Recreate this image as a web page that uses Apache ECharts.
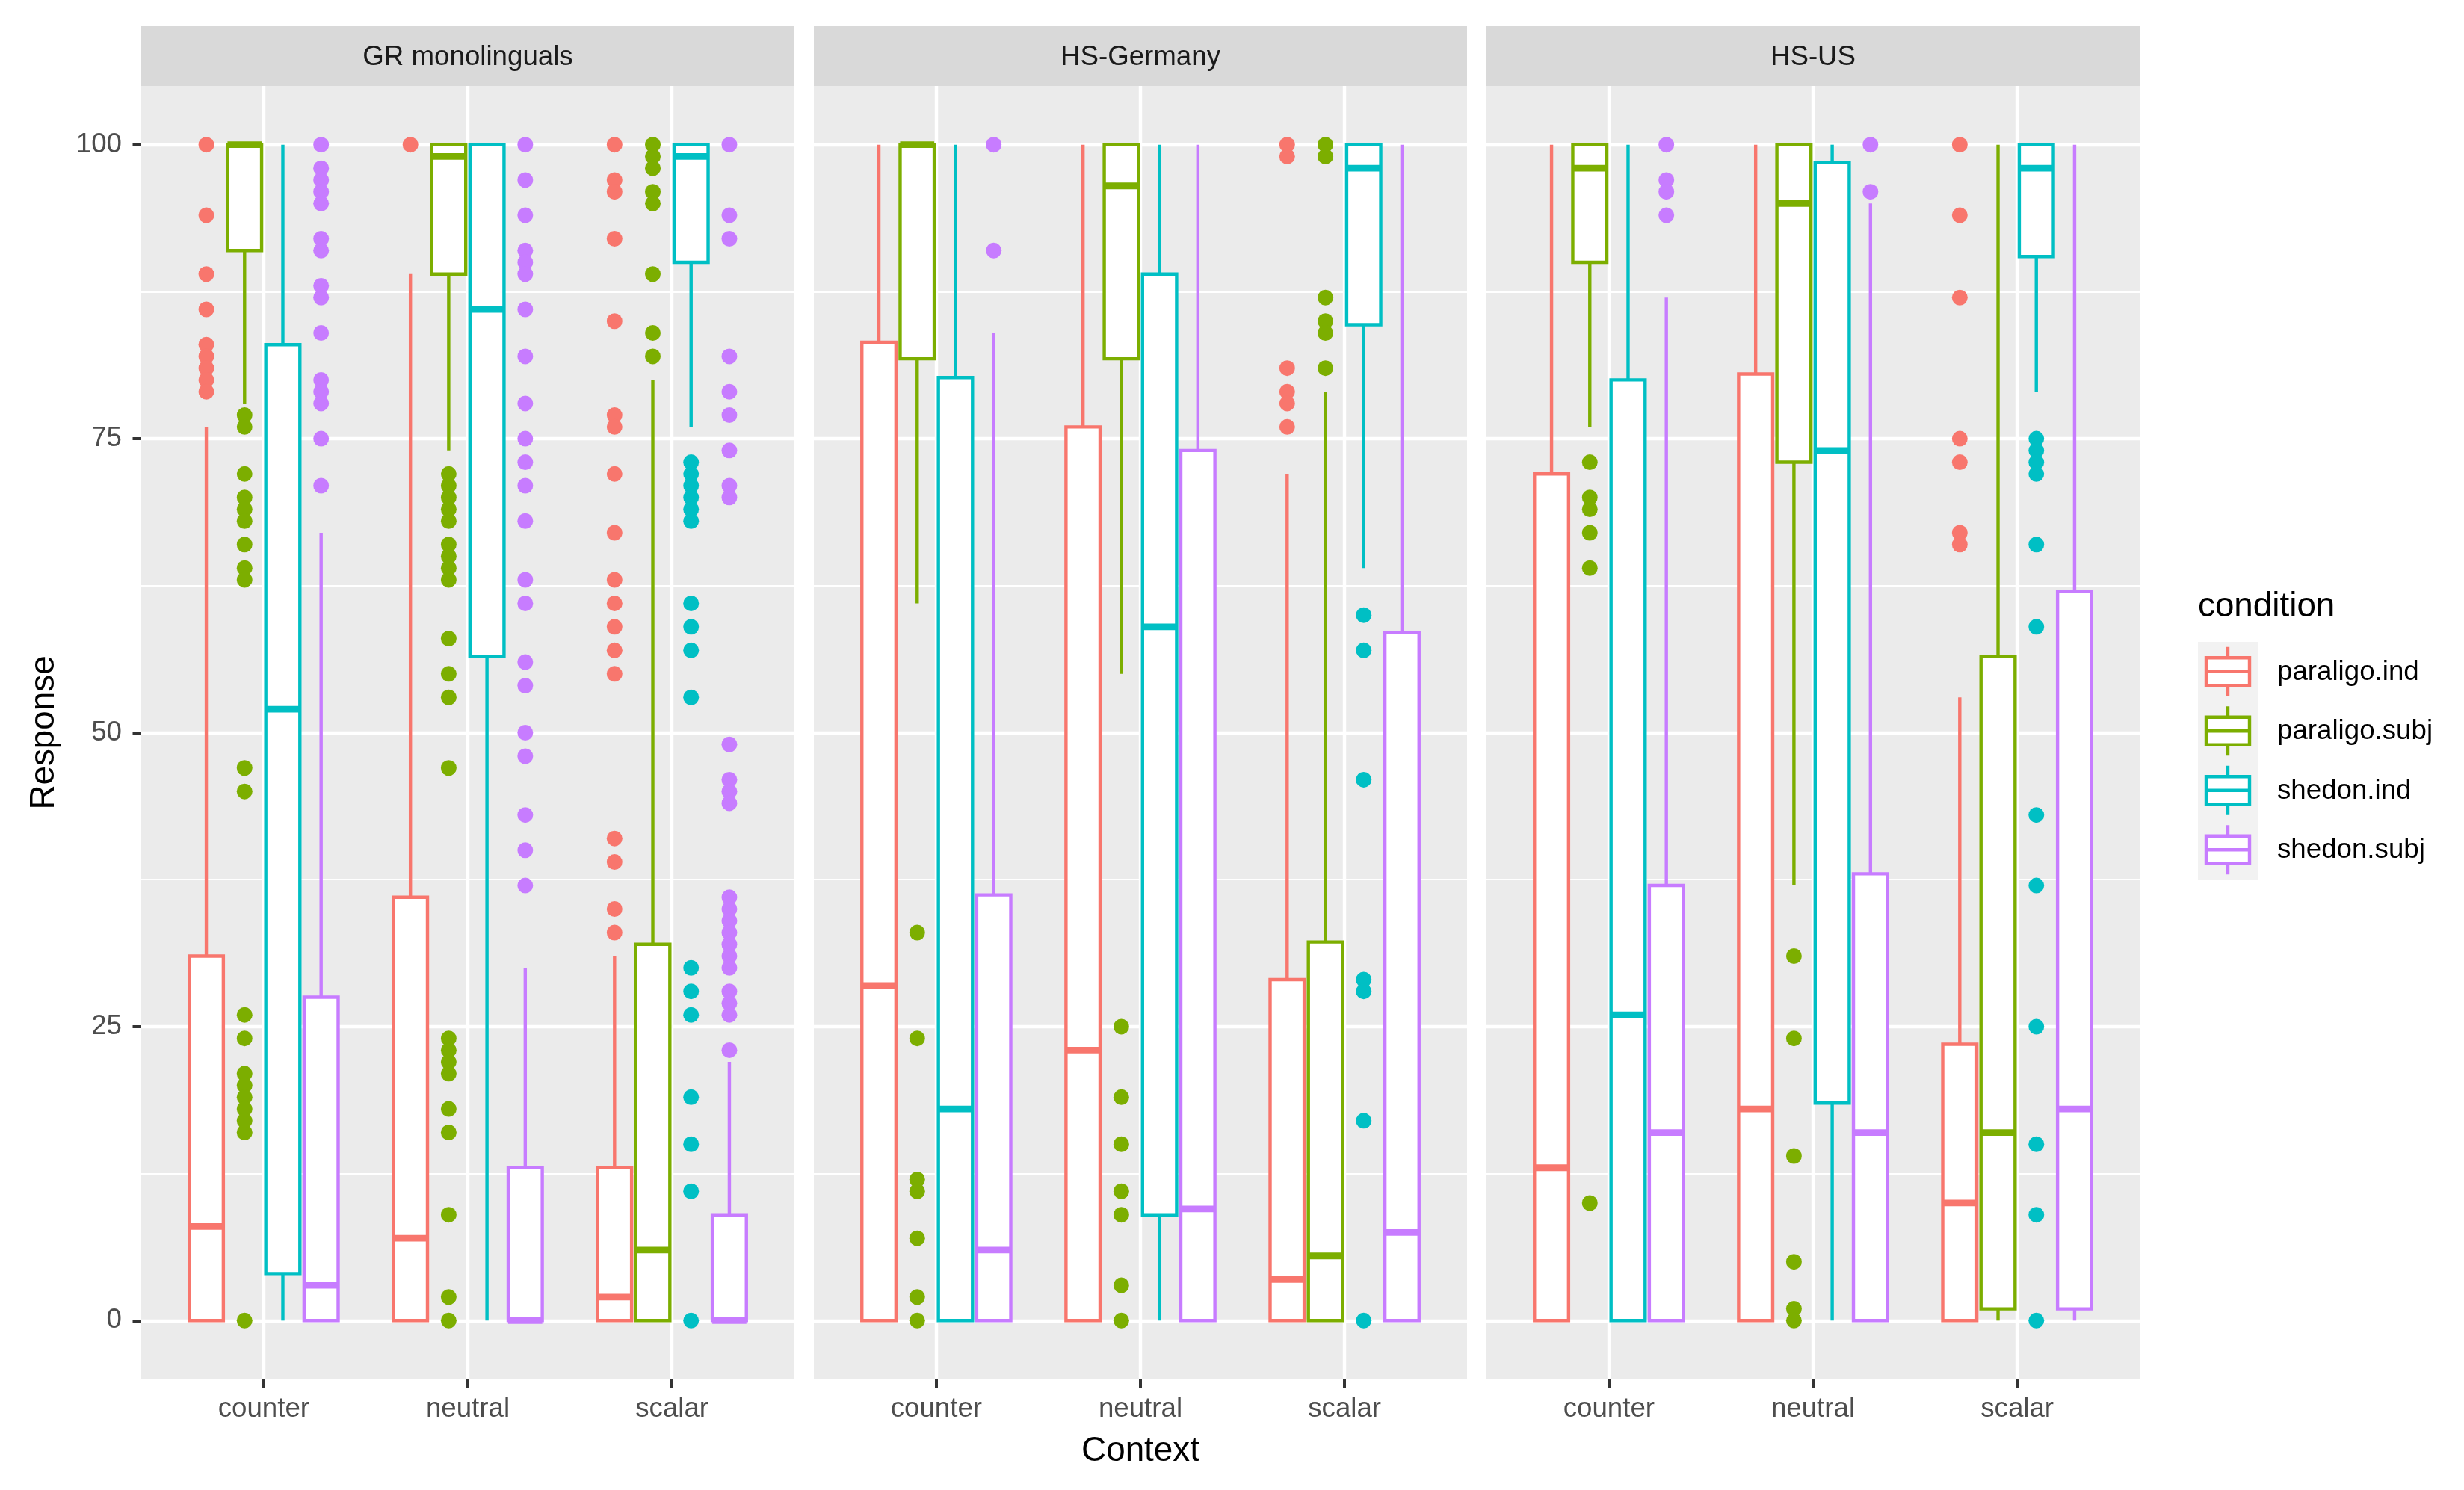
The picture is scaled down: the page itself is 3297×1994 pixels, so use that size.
<!DOCTYPE html>
<html><head><meta charset="utf-8">
<script src="https://cdn.jsdelivr.net/npm/echarts@6/dist/echarts.min.js"></script>
<style>html,body{margin:0;padding:0;background:#fff}#chart{width:3297px;height:1994px}</style>
</head><body><div id="chart"></div>
<script>
const facets = ['GR monolinguals', 'HS-Germany', 'HS-US'];
const contexts = ['counter', 'neutral', 'scalar'];
const conditions = ['paraligo.ind', 'paraligo.subj', 'shedon.ind', 'shedon.subj'];
const conditionColors = ['#F8766D', '#7CAE00', '#00BFC4', '#C77CFF'];
const yTickValues = [0, 25, 50, 75, 100];
const yMinorValues = [12.5, 37.5, 62.5, 87.5];

// Box stats per context (counter, neutral, scalar): [lower whisker, Q1, median, Q3, upper whisker]
// Outliers per context (counter, neutral, scalar)
// --- GR monolinguals ---
const grParaligoIndBox = [[0, 0, 8, 31, 76], [0, 0, 7, 36, 89], [0, 0, 2, 13, 31]];
const grParaligoIndOut = [[100, 94, 89, 86, 83, 82, 81, 80, 79], [100], [100, 97, 96, 92, 85, 77, 76, 72, 67, 63, 61, 59, 57, 55, 41, 39, 35, 33]];
const grParaligoSubjBox = [[78, 91, 100, 100, 100], [74, 89, 99, 100, 100], [0, 0, 6, 32, 80]];
const grParaligoSubjOut = [[77, 76, 72, 70, 69, 68, 66, 64, 63, 47, 45, 26, 24, 21, 20, 19, 18, 17, 16, 0], [72, 71, 70, 69, 68, 66, 65, 64, 63, 58, 55, 53, 47, 24, 23, 22, 21, 18, 16, 9, 2, 0], [100, 99, 98, 96, 95, 89, 84, 82]];
const grShedonIndBox = [[0, 4, 52, 83, 100], [0, 56.5, 86, 100, 100], [76, 90, 99, 100, 100]];
const grShedonIndOut = [[], [], [73, 72, 71, 70, 69, 68, 61, 59, 57, 53, 30, 28, 26, 19, 15, 11, 0]];
const grShedonSubjBox = [[0, 0, 3, 27.5, 67], [0, 0, 0, 13, 30], [0, 0, 0, 9, 22]];
const grShedonSubjOut = [[100, 98, 97, 96, 95, 92, 91, 88, 87, 84, 80, 79, 78, 75, 71], [100, 97, 94, 91, 90, 89, 86, 82, 78, 75, 73, 71, 68, 63, 61, 56, 54, 50, 48, 43, 40, 37], [100, 94, 92, 82, 79, 77, 74, 71, 70, 49, 46, 45, 44, 36, 35, 34, 33, 32, 31, 30, 28, 27, 26, 23]];
// --- HS-Germany ---
const deParaligoIndBox = [[0, 0, 28.5, 83.2, 100], [0, 0, 23, 76, 100], [0, 0, 3.5, 29, 72]];
const deParaligoIndOut = [[], [], [100, 99, 81, 79, 78, 76]];
const deParaligoSubjBox = [[61, 81.8, 100, 100, 100], [55, 81.8, 96.5, 100, 100], [0, 0, 5.5, 32.2, 79]];
const deParaligoSubjOut = [[33, 24, 12, 11, 7, 2, 0], [25, 19, 15, 11, 9, 3, 0], [100, 99, 87, 85, 84, 81]];
const deShedonIndBox = [[0, 0, 18, 80.2, 100], [0, 9, 59, 89, 100], [64, 84.7, 98, 100, 100]];
const deShedonIndOut = [[], [], [60, 57, 46, 29, 28, 17, 0]];
const deShedonSubjBox = [[0, 0, 6, 36.2, 84], [0, 0, 9.5, 74, 100], [0, 0, 7.5, 58.5, 100]];
const deShedonSubjOut = [[100, 91], [], []];
// --- HS-US ---
const usParaligoIndBox = [[0, 0, 13, 72, 100], [0, 0, 18, 80.5, 100], [0, 0, 10, 23.5, 53]];
const usParaligoIndOut = [[], [], [100, 94, 87, 75, 73, 67, 66]];
const usParaligoSubjBox = [[76, 90, 98, 100, 100], [37, 73, 95, 100, 100], [0, 1, 16, 56.5, 100]];
const usParaligoSubjOut = [[73, 70, 69, 67, 64, 10], [31, 24, 14, 5, 1, 0], []];
const usShedonIndBox = [[0, 0, 26, 80, 100], [0, 18.5, 74, 98.5, 100], [79, 90.5, 98, 100, 100]];
const usShedonIndOut = [[], [], [75, 74, 73, 72, 66, 59, 43, 37, 25, 15, 9, 0]];
const usShedonSubjBox = [[0, 0, 16, 37, 87], [0, 0, 16, 38, 95], [0, 1, 18, 62, 100]];
const usShedonSubjOut = [[100, 97, 96, 94], [100, 96], []];

const facetBoxes = [
  [grParaligoIndBox, grParaligoSubjBox, grShedonIndBox, grShedonSubjBox],
  [deParaligoIndBox, deParaligoSubjBox, deShedonIndBox, deShedonSubjBox],
  [usParaligoIndBox, usParaligoSubjBox, usShedonIndBox, usShedonSubjBox]
];
const facetOutliers = [
  [grParaligoIndOut, grParaligoSubjOut, grShedonIndOut, grShedonSubjOut],
  [deParaligoIndOut, deParaligoSubjOut, deShedonIndOut, deShedonSubjOut],
  [usParaligoIndOut, usParaligoSubjOut, usShedonIndOut, usShedonSubjOut]
];

// Layout
const FONT = '"Liberation Sans", Arial, Helvetica, sans-serif';
const panelLeft = [189, 1089, 1989];
const panelW = 874, panelTop = 115, panelH = 1731;
const stripTop = 35, stripH = 80;
const slot = 0.1875, boxW = 0.167;
const LW = 4.4;

const grids = panelLeft.map(l => ({
  left: l, top: panelTop, width: panelW, height: panelH,
  show: true, backgroundColor: '#EBEBEB', borderWidth: 0
}));

const xAxes = facets.map((f, i) => ({
  type: 'value', gridIndex: i, min: 0.4, max: 3.6, position: 'bottom',
  axisLine: { show: false, onZero: false },
  axisTick: { show: true, customValues: [1, 2, 3], length: 11.5, lineStyle: { color: '#333333', width: 4 } },
  axisLabel: { show: true, customValues: [1, 2, 3], formatter: v => contexts[Math.round(v) - 1] || '',
    color: '#4D4D4D', fontSize: 36.7, fontFamily: FONT, margin: 21 },
  splitLine: { show: true, lineStyle: { color: '#FFFFFF', width: LW } },
  name: i === 1 ? 'Context' : '', nameLocation: 'middle', nameGap: 73,
  nameTextStyle: { color: '#000000', fontSize: 45.8, fontFamily: FONT }
}));

const yAxes = [];
facets.forEach((f, i) => {
  yAxes.push({
    type: 'value', gridIndex: i, min: -5, max: 105, position: 'left',
    axisLine: { show: false, onZero: false },
    axisTick: { show: i === 0, customValues: yTickValues, length: 11.5, lineStyle: { color: '#333333', width: 4 } },
    axisLabel: { show: i === 0, customValues: yTickValues, color: '#4D4D4D', fontSize: 36.7, fontFamily: FONT, margin: 26 },
    splitLine: { show: true, lineStyle: { color: '#FFFFFF', width: LW } },
    name: i === 0 ? 'Response' : '', nameLocation: 'middle', nameGap: 107, nameRotate: 90,
    nameTextStyle: { color: '#000000', fontSize: 45.8, fontFamily: FONT }
  });
  yAxes.push({
    type: 'value', gridIndex: i, min: -5, max: 105, position: 'left',
    axisLine: { show: false, onZero: false },
    axisTick: { show: false, customValues: yMinorValues },
    axisLabel: { show: false, customValues: yMinorValues },
    splitLine: { show: true, lineStyle: { color: '#FFFFFF', width: LW / 2 } }
  });
});

function makeBoxRenderer(offset, color) {
  return function (params, api) {
    const x = api.value(0) + offset;
    const lo = api.coord([x, api.value(1)]);
    const q1 = api.coord([x, api.value(2)]);
    const md = api.coord([x, api.value(3)]);
    const q3 = api.coord([x, api.value(4)]);
    const hi = api.coord([x, api.value(5)]);
    const hw = api.size([boxW, 0])[0] / 2;
    return {
      type: 'group',
      children: [
        { type: 'line', shape: { x1: lo[0], y1: lo[1], x2: q1[0], y2: q1[1] }, style: { stroke: color, lineWidth: LW } },
        { type: 'line', shape: { x1: q3[0], y1: q3[1], x2: hi[0], y2: hi[1] }, style: { stroke: color, lineWidth: LW } },
        { type: 'rect', shape: { x: q3[0] - hw, y: q3[1], width: 2 * hw, height: q1[1] - q3[1] },
          style: { fill: '#FFFFFF', stroke: color, lineWidth: LW } },
        { type: 'line', shape: { x1: md[0] - hw, y1: md[1], x2: md[0] + hw, y2: md[1] },
          style: { stroke: color, lineWidth: LW * 2, lineCap: 'butt' } }
      ]
    };
  };
}
function makePointRenderer(offset, color) {
  return function (params, api) {
    const p = api.coord([api.value(0) + offset, api.value(1)]);
    return { type: 'circle', shape: { cx: p[0], cy: p[1], r: 10.5 }, style: { fill: color } };
  };
}

const series = [];
facets.forEach((f, fi) => {
  conditions.forEach((c, ci) => {
    const offset = (ci - 1.5) * slot;
    const color = conditionColors[ci];
    series.push({
      type: 'custom', name: c, coordinateSystem: 'cartesian2d',
      xAxisIndex: fi, yAxisIndex: fi * 2,
      data: facetOutliers[fi][ci].flatMap((vals, k) => vals.map(v => [k + 1, v])),
      encode: { x: 0, y: 1 },
      renderItem: makePointRenderer(offset, color), z: 3, silent: true
    });
    series.push({
      type: 'custom', name: c, coordinateSystem: 'cartesian2d',
      xAxisIndex: fi, yAxisIndex: fi * 2,
      data: facetBoxes[fi][ci].map((b, k) => [k + 1].concat(b)),
      encode: { x: 0, y: [1, 2, 3, 4, 5] },
      renderItem: makeBoxRenderer(offset, color), z: 4, silent: true
    });
  });
});

const graphics = [];
facets.forEach((f, i) => {
  graphics.push({ type: 'rect', shape: { x: panelLeft[i], y: stripTop, width: panelW, height: stripH },
    style: { fill: '#D9D9D9' }, silent: true });
  graphics.push({ type: 'text', x: panelLeft[i] + panelW / 2, y: stripTop + stripH / 2 + 2,
    style: { text: f, fill: '#1A1A1A', fontSize: 36.7, fontFamily: FONT, align: 'center', verticalAlign: 'middle' }, silent: true });
});
// Legend
const legX = 2941, legKeyTop = 859, keyH = 79.5, keyW = 80;
graphics.push({ type: 'text', x: legX, y: 812,
  style: { text: 'condition', fill: '#000000', fontSize: 45.8, fontFamily: FONT, align: 'left', verticalAlign: 'middle' }, silent: true });
graphics.push({ type: 'rect', shape: { x: legX, y: legKeyTop, width: keyW, height: keyH * 4 }, style: { fill: '#F2F2F2' }, silent: true });
conditions.forEach((c, k) => {
  const cy = legKeyTop + keyH * (k + 0.5);
  const cx = legX + keyW / 2;
  const col = conditionColors[k];
  graphics.push({ type: 'line', shape: { x1: cx, y1: cy - 33, x2: cx, y2: cy + 33 }, style: { stroke: col, lineWidth: LW }, silent: true });
  graphics.push({ type: 'rect', shape: { x: cx - 29, y: cy - 18.5, width: 58, height: 37 }, style: { fill: '#FFFFFF', stroke: col, lineWidth: LW }, silent: true });
  graphics.push({ type: 'line', shape: { x1: cx - 29, y1: cy, x2: cx + 29, y2: cy }, style: { stroke: col, lineWidth: LW }, silent: true });
  graphics.push({ type: 'text', x: 3047, y: cy + 1,
    style: { text: c, fill: '#000000', fontSize: 36.7, fontFamily: FONT, align: 'left', verticalAlign: 'middle' }, silent: true });
});

const chart = echarts.init(document.getElementById('chart'), null, { renderer: 'canvas' });
chart.setOption({
  animation: false,
  backgroundColor: '#FFFFFF',
  textStyle: { fontFamily: FONT },
  grid: grids,
  xAxis: xAxes,
  yAxis: yAxes,
  series: series,
  graphic: graphics
});
</script></body></html>
